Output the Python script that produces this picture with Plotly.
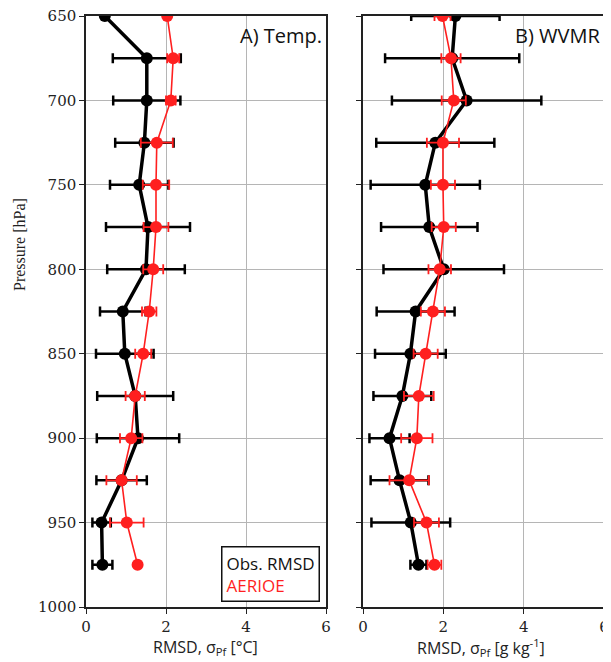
import plotly.graph_objects as go

pressure = [650, 675, 700, 725, 750, 775, 800, 825, 850, 875, 900, 925, 950, 975]

# Panel A: Temperature
temp_obs = [0.47, 1.52, 1.52, 1.46, 1.33, 1.55, 1.50, 0.92, 0.97, 1.23, 1.30, 0.89, 0.39, 0.41]
temp_obs_err = [0.0, 0.85, 0.84, 0.73, 0.73, 1.05, 0.97, 0.57, 0.72, 0.95, 1.03, 0.63, 0.23, 0.25]
temp_aer = [2.03, 2.18, 2.12, 1.77, 1.75, 1.75, 1.68, 1.58, 1.43, 1.23, 1.13, 0.89, 1.02, 1.29]
temp_aer_err = [0.0, 0.15, 0.12, 0.40, 0.33, 0.31, 0.25, 0.18, 0.20, 0.24, 0.28, 0.38, 0.42, 0.0]

# Panel B: WVMR
wv_obs = [2.30, 2.22, 2.58, 1.80, 1.55, 1.65, 2.01, 1.31, 1.18, 0.98, 0.66, 0.91, 1.19, 1.38]
wv_obs_err = [1.10, 1.67, 1.86, 1.47, 1.36, 1.20, 1.50, 0.97, 0.88, 0.72, 0.50, 0.72, 0.98, 0.20]
wv_aer = [1.98, 2.19, 2.26, 1.99, 1.99, 2.01, 1.91, 1.74, 1.56, 1.39, 1.34, 1.15, 1.58, 1.78]
wv_aer_err = [0.20, 0.24, 0.30, 0.40, 0.30, 0.30, 0.28, 0.30, 0.30, 0.37, 0.39, 0.49, 0.31, 0.17]

x_ticks = [0, 2, 4, 6]
y_ticks = [650, 700, 750, 800, 850, 900, 950, 1000]

BLACK = "#000000"
RED = "#ff1f1f"

# page body has an 8px margin; figure is sized to fill the rest of the window
OFF = 8
W, H = 611 - OFF, 662 - OFF


def px(x):
    return (x - OFF) / W


def py(y):
    return 1 - (y - OFF) / H


fig = go.Figure()


def add_pair(xa, ya, obs, obs_err, aer, aer_err):
    fig.add_trace(go.Scatter(
        x=obs, y=pressure, xaxis=xa, yaxis=ya, mode="lines+markers",
        line=dict(color=BLACK, width=3.5),
        marker=dict(color=BLACK, size=12),
        error_x=dict(type="data", array=obs_err, color=BLACK, thickness=2.5, width=5),
        showlegend=False))
    fig.add_trace(go.Scatter(
        x=aer, y=pressure, xaxis=xa, yaxis=ya, mode="lines+markers",
        line=dict(color=RED, width=1.6),
        marker=dict(color=RED, size=12),
        error_x=dict(type="data", array=aer_err, color=RED, thickness=1.8, width=5),
        showlegend=False))


add_pair("x", "y", temp_obs, temp_obs_err, temp_aer, temp_aer_err)
add_pair("x2", "y2", wv_obs, wv_obs_err, wv_aer, wv_aer_err)

tick_font = dict(family="DejaVu Serif", size=15, color="#222")
common_x = dict(range=[0, 6], tickvals=x_ticks, showgrid=True, gridcolor="#b5b5b5", gridwidth=1.2,
                zeroline=False, showline=True, linecolor="#222", linewidth=1.5, mirror=True,
                ticks="outside", ticklen=5, tickcolor="#222", tickfont=tick_font, automargin=False,
                ticklabeloverflow="allow")
common_y = dict(range=[1000, 650], tickvals=y_ticks, showgrid=True, gridcolor="#b5b5b5", gridwidth=1.2,
                zeroline=False, showline=True, linecolor="#222", linewidth=1.5, mirror=True,
                ticks="outside", ticklen=5, tickcolor="#222", tickfont=tick_font, automargin=False,
                ticklabeloverflow="allow")

fig.update_layout(
    width=W, height=H,
    margin=dict(l=0, r=0, t=0, b=0),
    plot_bgcolor="white", paper_bgcolor="white",
    xaxis=dict(domain=[px(86), px(326)], anchor="y", **common_x),
    yaxis=dict(domain=[py(607), py(16)], anchor="x", **common_y),
    xaxis2=dict(domain=[px(363), px(604)], anchor="y2", **common_x),
    yaxis2=dict(domain=[py(607), py(16)], anchor="x2", showticklabels=False, **common_y),
)

sans = "Open Sans"
annots = [
    dict(text="A) Temp.", x=px(324), y=py(20), xanchor="right", yanchor="top",
         font=dict(family=sans, size=20, color="#111")),
    dict(text="B) WVMR", x=px(602), y=py(20), xanchor="right", yanchor="top",
         font=dict(family=sans, size=20, color="#111")),
    dict(text="Pressure [hPa]", x=px(20), y=py(245), xanchor="center", yanchor="middle",
         textangle=-90, font=dict(family="Liberation Serif", size=16, color="#222")),
    dict(text="RMSD, σ<sub>Pf</sub> [°C]", x=px(205), y=py(647), xanchor="center", yanchor="middle",
         font=dict(family=sans, size=16, color="#222")),
    dict(text="RMSD, σ<sub>Pf</sub> [g kg<sup>-1</sup>]", x=px(481), y=py(647), xanchor="center",
         yanchor="middle", font=dict(family=sans, size=16, color="#222")),
    dict(text="Obs. RMSD<br><span style='color:#ff1f1f'>AERIOE</span>", x=px(320), y=py(602),
         xanchor="right", yanchor="bottom", align="left", bgcolor="white", bordercolor="#111",
         borderwidth=1.5, borderpad=4, font=dict(family=sans, size=17, color="#111")),
]
for a in annots:
    a.update(xref="paper", yref="paper", showarrow=False)
    fig.add_annotation(**a)

fig.write_html("out.html")
